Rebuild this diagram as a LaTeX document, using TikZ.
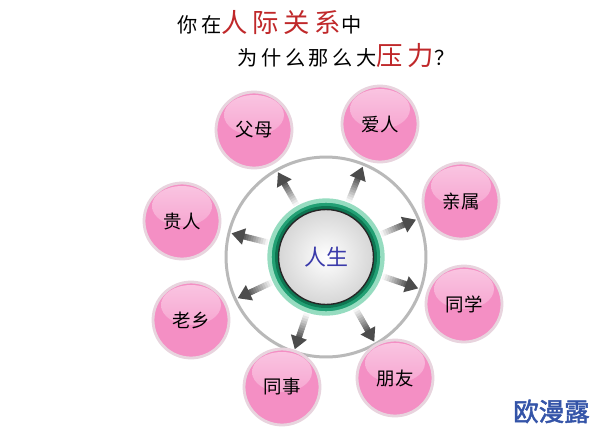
\documentclass[tikz,border=0pt]{standalone}
\usepackage{fontspec}
\newfontfamily\cjk{Noto Sans CJK SC}
\newfontfamily\titlecjk[LetterSpace=18]{Noto Sans CJK SC}
\newfontfamily\markcjk[FakeBold=2]{Noto Sans CJK SC}
\usetikzlibrary{arrows.meta, calc}
\definecolor{pinkc}{RGB}{244,143,196}
\definecolor{pinkhi}{RGB}{250,198,226}
\definecolor{halo}{RGB}{232,212,222}
\definecolor{ringdark}{RGB}{14,118,82}
\definecolor{ringmid}{RGB}{34,160,116}
\definecolor{ringlight}{RGB}{150,220,192}
\definecolor{lifeblue}{RGB}{58,58,170}
\definecolor{titlered}{RGB}{192,40,42}
\definecolor{markblue}{RGB}{52,84,168}
\tikzstyle{pal} = [circle, minimum size=1.52cm, inner sep=0pt, draw=halo, line width=1.6pt, fill=pinkc, font=\cjk\fontsize{10.5}{12}\selectfont, path picture={\shade[top color=pinkhi, bottom color=pinkc] ($(path picture bounding box.center)+(0,0.3cm)$) ellipse (0.6cm and 0.4cm);}]
\tikzstyle{ring} = [circle, minimum size=2.26cm, fill=ringmid, draw=ringlight, line width=2.5pt]
\tikzstyle{band} = [circle, minimum size=2.04cm, fill=ringdark]
\tikzstyle{core} = [circle, minimum size=1.9cm, draw=black!85, line width=0.8pt, inner color=white, outer color=gray!32, text=lifeblue, font=\cjk\fontsize{12.5}{14}\selectfont]
\tikzstyle{orbit} = [circle, minimum size=4cm, draw=gray!55, line width=1.7pt]
\tikzstyle{title} = [anchor=base west, inner sep=0pt, font=\titlecjk\fontsize{11.5}{14}\selectfont]

\begin{document}
\begin{tikzpicture}[x=0.02cm, y=-0.02cm]
			\useasboundingbox[fill=white] (0,0) rectangle (594,430);
			
			\node (line1) [title] at (177,32) {你在{\color{titlered}\fontsize{15}{18}\selectfont 人际关系}中};
			
			\node (line2) [title] at (237,65) {为什么那么大{\color{titlered}\fontsize{15}{18}\selectfont 压力}？};
			
			\node (orbit) [orbit] at (326,257) {};
			
			\node (ring) [ring] at (326,257) {};
			
			\node (band) [band] at (326,257) {};
			
			\node (life) [core] at (326,257) {人生};
			
			\node (fumu) [pal] at (254,130) {父母};
			
			\node (airen) [pal] at (380,124) {爱人};
			
			\node (qinshu) [pal] at (461,201) {亲属};
			
			\node (tongxue) [pal] at (464,304) {同学};
			
			\node (pengyou) [pal] at (395,378) {朋友};
			
			\node (tongshi) [pal] at (282,387) {同事};
			
			\node (laoxiang) [pal] at (191,320) {老乡};
			
			\node (guiren) [pal] at (182,221) {贵人};
			
			\foreach \n in {fumu,airen,qinshu,tongxue,pengyou,tongshi,laoxiang,guiren}{
				\foreach \i in {0,...,9}{
					\pgfmathsetmacro\ra{1.20+0.05*\i}
					\pgfmathsetmacro\rb{1.26+0.05*\i}
					\pgfmathsetmacro\tone{4+6.5*\i}
					\draw [line width=0.12cm, black!\tone] ($(life)!\ra cm!(\n)$) -- ($(life)!\rb cm!(\n)$);
				}
				\draw [-{Triangle[length=0.26cm, width=0.32cm]}, line width=0.12cm, black!70] ($(life)!1.69cm!(\n)$) -- ($(life)!1.95cm!(\n)$);
			}
			
			\node (mark) [anchor=base east, inner sep=0pt, text=markblue, font=\markcjk\fontsize{14.5}{16}\selectfont] at (590,421) {欧漫露};
\end{tikzpicture}
\end{document}
